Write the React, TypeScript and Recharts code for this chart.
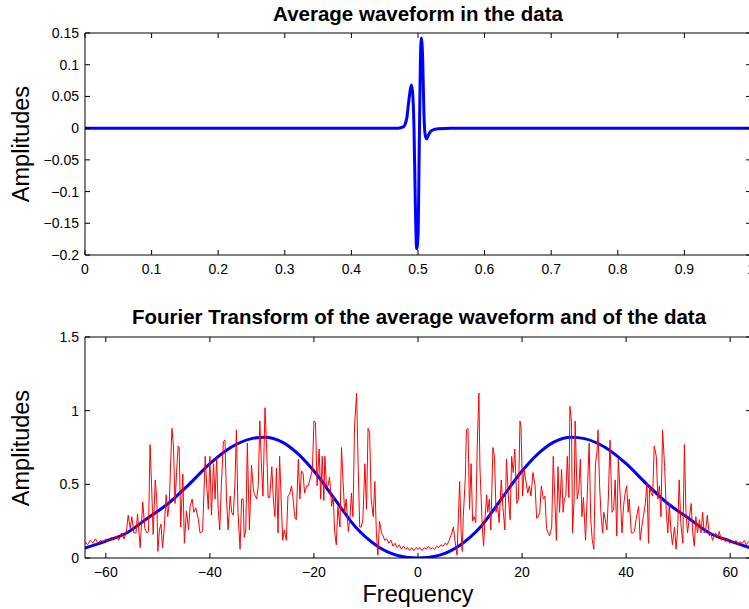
import { LineChart, Line, XAxis, YAxis } from 'recharts';

const FONT = '"Liberation Sans", Arial, Helvetica, sans-serif';

// top panel: average spike waveform, time 0..1
const waveTime = [
  0, 0.47, 0.478, 0.483, 0.487, 0.49, 0.492, 0.494, 0.496, 0.498, 0.5, 0.502, 0.5035,
  0.505, 0.507, 0.509, 0.511, 0.513, 0.516, 0.52, 0.53, 0.55, 1,
];
const waveAmp = [
  0, 0, 0.002, 0.015, 0.05, 0.068, 0.055, 0, -0.12, -0.19, -0.17, -0.02, 0.1,
  0.142, 0.11, 0.02, -0.012, -0.017, -0.01, -0.004, -0.001, 0, 0,
];
const waveTicksX = [0, 0.1, 0.2, 0.3, 0.4, 0.5, 0.6, 0.7, 0.8, 0.9, 1];
const waveTicksY = [-0.2, -0.15, -0.1, -0.05, 0, 0.05, 0.1, 0.15];

// bottom panel: spectra
const specTicksX = [-60, -40, -20, 0, 20, 40, 60];
const specTicksY = [0, 0.5, 1, 1.5];

// smooth spectrum of the average waveform
const avgFreq = [
  -64, -60, -56, -52, -48, -44, -40, -36, -32, -29.5, -26, -23, -20, -16, -12, -8, -4, 0,
  4, 8, 12, 16, 20, 23, 26, 29.5, 32, 36, 40, 44, 48, 52, 56, 60, 64,
];
const avgAmp = [
  0.068, 0.115, 0.17, 0.27, 0.37, 0.5, 0.64, 0.75, 0.81, 0.82, 0.785, 0.705, 0.59, 0.4, 0.21, 0.085, 0.018, 0,
  0.018, 0.085, 0.21, 0.4, 0.59, 0.705, 0.785, 0.82, 0.81, 0.75, 0.64, 0.5, 0.37, 0.27, 0.17, 0.115, 0.068,
];

// noisy spectrum of the data: [frequency, amplitude]
const dataSpectrum: [number, number][] = [
  [-64, 0.11], [-63.5, 0.09], [-63, 0.12], [-62.5, 0.1], [-62, 0.13], [-61.5, 0.1], [-61, 0.12],
  [-60.5, 0.11], [-60, 0.13], [-59.5, 0.11], [-59, 0.14], [-58.5, 0.12], [-58, 0.15], [-57.5, 0.12],
  [-57, 0.17], [-56.5, 0.13], [-56, 0.19], [-55.7, 0.29], [-55.3, 0.2], [-55, 0.28], [-54.6, 0.17],
  [-54.2, 0.17], [-53.9, 0.3], [-53.4, 0.07], [-52.9, 0.38], [-52.5, 0.2], [-52.1, 0.17], [-51.8, 0.18],
  [-51.5, 0.77], [-51.2, 0.49], [-50.9, 0.16], [-50.5, 0.53], [-50.2, 0.4], [-50, 0.045], [-49.7, 0.19],
  [-49.4, 0.23], [-49.1, 0.07], [-48.8, 0.19], [-48.4, 0.43], [-48.1, 0.28], [-47.8, 0.38], [-47.3, 0.88],
  [-47, 0.76], [-46.7, 0.37], [-46.4, 0.58], [-46.1, 0.76], [-45.9, 0.75], [-45.6, 0.21], [-45.2, 0.57],
  [-44.9, 0.1], [-44.5, 0.32], [-44.1, 0.19], [-43.8, 0.35], [-43.4, 0.4], [-43.1, 0.31], [-42.7, 0.34],
  [-42.2, 0.26], [-41.9, 0.17], [-41.4, 0.18], [-40.9, 0.69], [-40.6, 0.49], [-40.3, 0.33], [-40, 0.69],
  [-39.7, 0.29], [-39.3, 0.64], [-39, 0.4], [-38.7, 0.68], [-38.4, 0.33], [-38.1, 0.19], [-37.8, 0.49],
  [-37.4, 0.79], [-37.1, 0.8], [-36.8, 0.4], [-36.5, 0.19], [-36.1, 0.42], [-35.8, 0.31], [-35.5, 0.29],
  [-35.2, 0.49], [-34.9, 0.87], [-34.6, 0.31], [-34.2, 0.06], [-33.9, 0.4], [-33.6, 0.4], [-33.4, 0.14],
  [-33.1, 0.19], [-32.8, 0.78], [-32.4, 0.19], [-32, 0.63], [-31.7, 0.49], [-31.5, 0.44], [-31, 0.4],
  [-30.7, 0.49], [-30.4, 0.93], [-30.1, 0.64], [-29.8, 0.42], [-29.4, 1.02], [-29.1, 0.76], [-28.8, 0.41],
  [-28.5, 0.41], [-28.1, 0.62], [-27.8, 0.4], [-27.5, 0.28], [-27.2, 0.61], [-26.9, 0.17], [-26.6, 0.69],
  [-26.3, 0.4], [-26, 0.12], [-25.7, 0.19], [-25.3, 0.12], [-25, 0.42], [-24.7, 0.43], [-24.3, 0.49],
  [-24, 0.4], [-23.7, 0.28], [-23.4, 0.26], [-23, 0.67], [-22.7, 0.4], [-22.4, 0.59], [-22.1, 0.58],
  [-21.8, 0.44], [-21.4, 0.49], [-21.1, 0.49], [-20.8, 0.53], [-20.3, 0.6], [-20, 0.93], [-19.7, 0.92],
  [-19.4, 0.49], [-19, 0.74], [-18.7, 0.4], [-18.4, 0.69], [-18.1, 0.39], [-17.9, 0.69], [-17.6, 0.49],
  [-17.3, 0.49], [-17, 0.55], [-16.6, 0.35], [-16.3, 0.42], [-16, 0.17], [-15.7, 0.09], [-15.4, 0.35],
  [-15, 0.21], [-14.7, 0.75], [-14.4, 0.52], [-14.1, 0.31], [-13.8, 0.4], [-13.4, 0.18], [-13.1, 0.26],
  [-12.8, 0.44], [-12.5, 0.28], [-12.2, 0.89], [-11.8, 1.12], [-11.5, 0.62], [-11.2, 0.21], [-10.9, 0.21],
  [-10.6, 0.26], [-10.2, 0.64], [-9.9, 0.33], [-9.6, 0.88], [-9.3, 0.85], [-9, 0.4], [-8.6, 0.28],
  [-8.3, 0.52], [-8, 0.17], [-7.7, 0.02], [-7.4, 0.25], [-7, 0.17], [-6.7, 0.15], [-6.4, 0.12],
  [-6, 0.13], [-5.6, 0.1], [-5.2, 0.12], [-4.8, 0.08], [-4.4, 0.1], [-4, 0.07], [-3.6, 0.09],
  [-3.2, 0.06], [-2.8, 0.08], [-2.4, 0.06], [-2, 0.07], [-1.6, 0.05], [-1.2, 0.07], [-0.8, 0.05],
  [-0.4, 0.07], [0, 0.06], [0.4, 0.07], [0.8, 0.05], [1.2, 0.07], [1.6, 0.06], [2, 0.08],
  [2.4, 0.06], [2.8, 0.07], [3.2, 0.06], [3.6, 0.08], [4, 0.07], [4.4, 0.09], [4.8, 0.08],
  [5.2, 0.1], [5.6, 0.09], [6, 0.12], [6.5, 0.17], [6.8, 0.21], [7.1, 0.12], [7.5, 0.02],
  [7.8, 0.31], [8, 0.52], [8.3, 0.17], [8.5, 0.045], [8.7, 0.28], [9.1, 0.55], [9.3, 0.87],
  [9.6, 0.88], [9.9, 0.33], [10.2, 0.64], [10.5, 0.25], [10.8, 0.28], [11.1, 0.24], [11.4, 0.78],
  [11.7, 1.12], [11.9, 0.62], [12.3, 0.26], [12.6, 0.08], [12.9, 0.28], [13.2, 0.43], [13.4, 0.31],
  [13.7, 0.4], [14, 0.19], [14.4, 0.75], [14.7, 0.69], [15, 0.31], [15.3, 0.36], [15.6, 0.24],
  [16, 0.53], [16.3, 0.35], [16.7, 0.19], [17, 0.67], [17.4, 0.4], [17.7, 0.26], [18, 0.69],
  [18.3, 0.58], [18.6, 0.74], [19, 0.37], [19.3, 0.4], [19.6, 0.93], [19.8, 0.89], [20.1, 0.42],
  [20.4, 0.6], [20.7, 0.53], [21.1, 0.44], [21.4, 0.49], [21.7, 0.42], [22.1, 0.58], [22.5, 0.49],
  [22.8, 0.27], [23.1, 0.28], [23.4, 0.31], [23.7, 0.49], [24.1, 0.4], [24.4, 0.42], [24.7, 0.2],
  [25, 0.17], [25.3, 0.15], [25.7, 0.21], [26, 0.69], [26.3, 0.4], [26.6, 0.12], [26.9, 0.62],
  [27.2, 0.31], [27.6, 0.6], [27.9, 0.31], [28.1, 0.4], [28.4, 0.42], [28.7, 0.69], [29, 0.41],
  [29.2, 1.03], [29.5, 0.92], [29.7, 0.17], [30, 0.4], [30.2, 0.93], [30.6, 0.4], [30.9, 0.46],
  [31.2, 0.67], [31.5, 0.28], [31.8, 0.41], [32.2, 0.12], [32.5, 0.4], [32.9, 0.78], [33.2, 0.26],
  [33.5, 0.12], [33.8, 0.06], [34.1, 0.64], [34.4, 0.72], [34.6, 0.87], [34.9, 0.49], [35.2, 0.28],
  [35.5, 0.17], [35.7, 0.31], [36, 0.26], [36.3, 0.19], [36.6, 0.42], [36.9, 0.8], [37.3, 0.31],
  [37.6, 0.33], [37.9, 0.53], [38.2, 0.15], [38.5, 0.67], [38.9, 0.4], [39.2, 0.17], [39.5, 0.35],
  [39.8, 0.44], [40.1, 0.49], [40.4, 0.31], [40.6, 0.4], [41, 0.17], [41.3, 0.17], [41.6, 0.18],
  [41.9, 0.26], [42.4, 0.35], [42.7, 0.12], [43, 0.21], [43.3, 0.28], [43.7, 0.37], [44, 0.51],
  [44.3, 0.1], [44.5, 0.49], [44.8, 0.44], [45.1, 0.42], [45.4, 0.76], [45.8, 0.69], [46.1, 0.4],
  [46.4, 0.49], [46.7, 0.28], [47, 0.87], [47.4, 0.62], [47.7, 0.33], [48, 0.17], [48.3, 0.37],
  [48.6, 0.19], [48.9, 0.09], [49.3, 0.21], [49.6, 0.06], [49.9, 0.19], [50.2, 0.53], [50.5, 0.24],
  [50.9, 0.1], [51.2, 0.77], [51.5, 0.31], [51.8, 0.17], [52.1, 0.26], [52.5, 0.37], [52.8, 0.17],
  [53.1, 0.08], [53.4, 0.28], [53.7, 0.17], [54.1, 0.26], [54.4, 0.17], [54.7, 0.31], [55, 0.17],
  [55.3, 0.19], [55.6, 0.29], [56, 0.15], [56.3, 0.17], [56.6, 0.12], [57.2, 0.17], [57.6, 0.14],
  [57.9, 0.18], [58.3, 0.12], [58.7, 0.14], [59.1, 0.11], [59.5, 0.13], [59.9, 0.1], [60.3, 0.12],
  [60.7, 0.1], [61.1, 0.12], [61.5, 0.09], [61.9, 0.11], [62.3, 0.1], [62.7, 0.12], [63.1, 0.09],
  [63.5, 0.11], [64, 0.1],
];

const fmt = (v: number) => String(v).replace('-', '\u2212');
const blank = () => '';

const tickStyle = { fill: '#000', fontSize: 14, fontFamily: FONT };
const black = { stroke: '#000', strokeWidth: 1 };

const waveData = waveTime.map((t, i) => ({ x: t, y: waveAmp[i] }));
const avgData = avgFreq.map((f, i) => ({ x: f, y: avgAmp[i] }));
const noisyData = dataSpectrum.map(([f, a]) => ({ x: f, y: a }));

function Panel({
  height, top, bottom, xDomain, xTicks, yDomain, yTicks, children,
}: {
  height: number; top: number; bottom: number;
  xDomain: [number, number]; xTicks: number[];
  yDomain: [number, number]; yTicks: number[];
  children: React.ReactNode;
}) {
  return (
    <LineChart width={760} height={height} margin={{ top, right: 5, bottom: 0, left: 0 }}>
      <XAxis xAxisId="b" type="number" dataKey="x" domain={xDomain} ticks={xTicks} interval={0}
        allowDataOverflow height={bottom} tickSize={-5} tickMargin={14} tickFormatter={fmt}
        tick={tickStyle} tickLine={black} axisLine={black} />
      <XAxis xAxisId="t" orientation="top" type="number" dataKey="x" domain={xDomain} ticks={xTicks}
        interval={0} allowDataOverflow height={1} tickSize={-5} tickFormatter={blank}
        tick={tickStyle} tickLine={black} axisLine={black} />
      <YAxis yAxisId="l" type="number" domain={yDomain} ticks={yTicks} interval={0}
        allowDataOverflow width={85} tickSize={-5} tickMargin={11} tickFormatter={fmt}
        tick={tickStyle} tickLine={black} axisLine={black} />
      <YAxis yAxisId="r" orientation="right" type="number" domain={yDomain} ticks={yTicks}
        interval={0} allowDataOverflow width={4} tickSize={-5} tickFormatter={blank}
        tick={tickStyle} tickLine={black} axisLine={black} />
      {children}
    </LineChart>
  );
}

export default function App() {
  return (
    <div style={{ position: 'fixed', left: 0, top: 0, width: 749, height: 609, overflow: 'hidden', background: '#fff' }}>
      <div style={{ position: 'absolute', left: 0, top: 0 }}>
        <Panel height={290} top={32} bottom={35} xDomain={[0, 1]} xTicks={waveTicksX}
          yDomain={[-0.2, 0.15]} yTicks={waveTicksY}>
          <Line xAxisId="b" yAxisId="l" data={waveData} dataKey="y" type="monotone" stroke="#0000ff"
            strokeWidth={3} dot={false} activeDot={false} isAnimationActive={false} />
        </Panel>
      </div>
      <div style={{ position: 'absolute', left: 0, top: 290 }}>
        <Panel height={319} top={46} bottom={51} xDomain={[-64, 64]} xTicks={specTicksX}
          yDomain={[0, 1.5]} yTicks={specTicksY}>
          <Line xAxisId="b" yAxisId="l" data={avgData} dataKey="y" type="monotone" stroke="#0000ff"
            strokeWidth={3} dot={false} activeDot={false} isAnimationActive={false} />
          <Line xAxisId="b" yAxisId="l" data={noisyData} dataKey="y" type="linear" stroke="#ff0000"
            strokeWidth={1} dot={false} activeDot={false} isAnimationActive={false} />
        </Panel>
      </div>
      <svg width={749} height={609} style={{ position: 'absolute', left: 0, top: 0, pointerEvents: 'none' }}>
        <g fontFamily={FONT} fill="#000">
          <text x={418} y={20.5} textAnchor="middle" fontSize={20.5} fontWeight="bold">
            Average waveform in the data
          </text>
          <text x={419} y={324} textAnchor="middle" fontSize={20.5} fontWeight="bold">
            Fourier Transform of the average waveform and of the data
          </text>
          <text x={418} y={602} textAnchor="middle" fontSize={23.5}>Frequency</text>
          <text transform="translate(29,144) rotate(-90)" textAnchor="middle" fontSize={23.5}>Amplitudes</text>
          <text transform="translate(29,448) rotate(-90)" textAnchor="middle" fontSize={23.5}>Amplitudes</text>
        </g>
      </svg>
    </div>
  );
}
